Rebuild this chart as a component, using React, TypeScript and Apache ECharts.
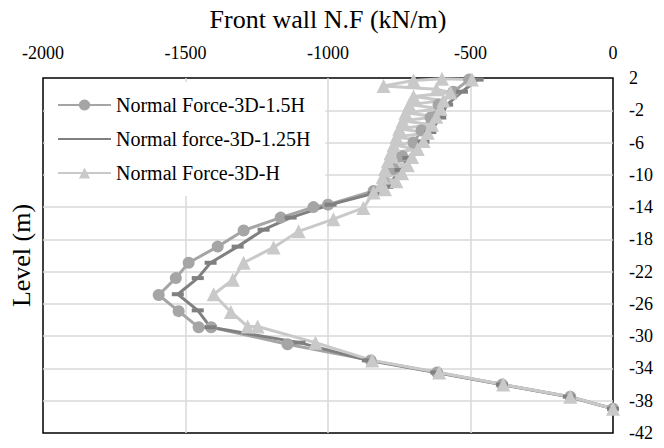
import React, { useEffect, useRef } from "react";
import * as echarts from "echarts";

const FONT = "'Liberation Serif', 'Times New Roman', serif";

const seriesNames = ["Normal Force-3D-1.5H", "Normal force-3D-1.25H", "Normal Force-3D-H"];

const levels15 = [1.8, 0.3, -1.3, -2.9, -4.5, -6, -7.7, -9.3, -10.9, -12, -13.7, -14, -15.3, -16.9, -18.9, -20.9, -22.8, -24.9, -26.9, -28.9, -28.9, -31, -33, -34.5, -36, -37.5, -39];
const force15 = [-505, -560, -612, -640, -672, -700, -740, -770, -805, -840, -1000, -1051, -1166, -1296, -1387, -1489, -1534, -1594, -1524, -1454, -1410, -1142, -850, -617, -389, -150, 0];

const levels125 = [1.8, 0.3, -1.3, -2.9, -4.7, -5.9, -7.9, -9.4, -11.5, -12.3, -13.7, -15.3, -16.8, -18.9, -20.9, -22.8, -24.8, -26.8, -28.9, -30.8, -33, -34.5, -36, -37.5, -39];
const force125 = [-475, -530, -582, -606, -641, -665, -718, -746, -792, -840, -991, -1131, -1226, -1317, -1412, -1457, -1527, -1457, -1412, -1100, -860, -620, -390, -155, 0];

const levelsH = [1.8, 1.9, 1.7, 1.0, 0.6, 0.2, -0.3, -0.8, -1.3, -1.8, -2.3, -2.8, -3.3, -3.8, -4.3, -4.8, -5.3, -5.8, -6.3, -6.8, -7.3, -7.8, -8.3, -8.8, -9.3, -9.8, -10.3, -10.8, -11.3, -11.8, -12.2, -14.1, -15.5, -17, -19, -20.9, -23, -24.8, -27, -28.8, -28.8, -30.8, -33, -34.5, -36, -37.5, -39];
const forceH = [-495, -600, -700, -805, -620, -570, -700, -595, -715, -605, -728, -620, -738, -635, -750, -650, -760, -665, -770, -685, -780, -705, -790, -720, -800, -740, -808, -760, -815, -800, -840, -876, -981, -1103, -1191, -1296, -1334, -1401, -1341, -1282, -1247, -1044, -845, -610, -385, -150, 0];

const xTicks = [-2000, -1500, -1000, -500, 0];
const yTicks = [2, -2, -6, -10, -14, -18, -22, -26, -30, -34, -38, -42];

const zip = (xs: number[], ys: number[]) => xs.map((x, i) => [x, ys[i]]);

export default function App() {
  const ref = useRef<HTMLDivElement>(null);
  useEffect(() => {
    if (!ref.current) return;
    const chart = echarts.init(ref.current, null, { renderer: "svg" });
    const split = { show: true, showMinLine: false, showMaxLine: false, lineStyle: { color: "#d9d9d9", width: 1.5 } };
    const fmt = (v: number) => String(v);
    chart.setOption({
      animation: false,
      backgroundColor: "#fff",
      textStyle: { fontFamily: FONT },
      grid: { left: 42, right: 51, top: 78, bottom: 15, show: true, borderColor: "#000", borderWidth: 1.5, backgroundColor: "transparent" },
      legend: {
        orient: "vertical",
        left: 45,
        top: 82,
        padding: [13, 15, 13, 12],
        backgroundColor: "#fff",
        itemWidth: 53,
        itemHeight: 14,
        itemGap: 14,
        textStyle: { fontFamily: FONT, fontSize: 20, color: "#000" },
        data: [
          { name: seriesNames[0] },
          { name: seriesNames[1], itemStyle: { opacity: 0 } },
          { name: seriesNames[2] },
        ],
      },
      xAxis: {
        type: "value",
        position: "top",
        min: xTicks[0],
        max: xTicks[xTicks.length - 1],
        interval: 500,
        name: "Front wall N.F (kN/m)",
        nameLocation: "middle",
        nameGap: 46,
        nameTextStyle: { fontFamily: FONT, fontSize: 26, color: "#000" },
        axisLine: { show: false },
        axisTick: { show: false },
        axisLabel: { fontFamily: FONT, fontSize: 18, color: "#000", margin: 16, formatter: fmt },
        splitLine: split,
      },
      yAxis: [
        {
          type: "value",
          position: "right",
          min: -42,
          max: 2,
          axisLine: { show: false },
          axisTick: { show: false, customValues: yTicks },
          axisLabel: { fontFamily: FONT, fontSize: 18, color: "#000", margin: 16, customValues: yTicks, formatter: fmt },
          splitLine: split,
        },
        {
          type: "value",
          position: "left",
          min: -42,
          max: 2,
          name: "Level (m)",
          nameLocation: "middle",
          nameGap: 9,
          nameRotate: 90,
          nameTextStyle: { fontFamily: FONT, fontSize: 26, color: "#000" },
          axisLine: { show: false },
          axisTick: { show: false },
          axisLabel: { show: false },
          splitLine: { show: false },
        },
      ],
      series: [
        {
          name: seriesNames[0],
          type: "line",
          yAxisIndex: 0,
          data: zip(force15, levels15),
          symbol: "circle",
          symbolSize: 12,
          lineStyle: { color: "#a5a5a5", width: 3 },
          itemStyle: { color: "#a5a5a5" },
        },
        {
          name: seriesNames[1],
          type: "line",
          yAxisIndex: 0,
          data: zip(force125, levels125),
          symbol: "rect",
          symbolSize: [12, 4],
          lineStyle: { color: "#808080", width: 3 },
          itemStyle: { color: "#808080" },
        },
        {
          name: seriesNames[2],
          type: "line",
          yAxisIndex: 0,
          data: zip(forceH, levelsH),
          symbol: "triangle",
          symbolSize: 14,
          lineStyle: { color: "#c9c9c9", width: 3 },
          itemStyle: { color: "#c9c9c9" },
        },
      ],
    });
    return () => chart.dispose();
  }, []);
  return <div ref={ref} style={{ width: 664, height: 448, position: "absolute", left: 0, top: 0 }} />;
}
